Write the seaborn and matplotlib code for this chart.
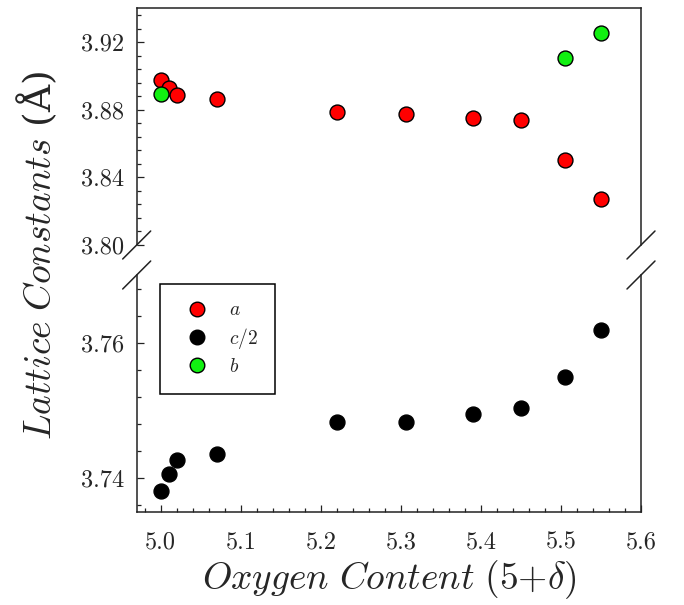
import matplotlib
matplotlib.use("Agg")
import matplotlib.pyplot as plt
import seaborn as sns
import pandas as pd
from matplotlib.lines import Line2D
from matplotlib.ticker import FixedLocator, MultipleLocator, FixedFormatter

# ---- data ----
oxygen = [5.00, 5.01, 5.02, 5.07, 5.22, 5.306, 5.39, 5.45, 5.505, 5.55]
a_vals = [3.8973, 3.8928, 3.8889, 3.8863, 3.8784, 3.8776, 3.8754, 3.8739, 3.8500, 3.8272]
c2_vals = [3.7381, 3.7406, 3.7427, 3.7436, 3.7483, 3.7482, 3.7495, 3.7503, 3.7549, 3.7618]
b_oxygen = [5.00, 5.505, 5.55]
b_vals = [3.8895, 3.9105, 3.9253]

x_ticks = [5.0, 5.1, 5.2, 5.3, 5.4, 5.5, 5.6]
x_ticklabels = ["5.0", "5.1", "5.2", "5.3", "5.4", "5.5", "5.6"]
top_ticks = [3.80, 3.84, 3.88, 3.92]
top_ticklabels = ["3.80", "3.84", "3.88", "3.92"]
bot_ticks = [3.74, 3.76]
bot_ticklabels = ["3.74", "3.76"]

sns.set_style("ticks")
plt.rcParams["font.family"] = ["cmr10", "DejaVu Serif"]
plt.rcParams["mathtext.fontset"] = "cm"
plt.rcParams["axes.formatter.use_mathtext"] = True

W, H = 684, 605
fig = plt.figure(figsize=(W / 100, H / 100), dpi=100)

L, R = 136.7, 641.0
ax_top = fig.add_axes([L / W, 1 - 245 / H, (R - L) / W, (245 - 8.3) / H])
ax_bot = fig.add_axes([L / W, 1 - 511.7 / H, (R - L) / W, (511.7 - 275) / H])

df_a = pd.DataFrame({"x": oxygen, "y": a_vals})
df_c = pd.DataFrame({"x": oxygen, "y": c2_vals})
df_b = pd.DataFrame({"x": b_oxygen, "y": b_vals})

msize = 115
red = "#ff0000"
green = "#11f011"

sns.scatterplot(data=df_a, x="x", y="y", ax=ax_top, s=msize, color=red,
                edgecolor="black", linewidth=1.0, zorder=3)
sns.scatterplot(data=df_b, x="x", y="y", ax=ax_top, s=msize, color=green,
                edgecolor="black", linewidth=1.0, zorder=4)
sns.scatterplot(data=df_c, x="x", y="y", ax=ax_bot, s=msize, color="black",
                edgecolor="black", linewidth=1.0, zorder=3)

spine_c = "#222222"
for ax in (ax_top, ax_bot):
    ax.set_xlim(4.97, 5.60)
    ax.set_xlabel("")
    ax.set_ylabel("")
    for sp in ax.spines.values():
        sp.set_linewidth(1.1)
        sp.set_color(spine_c)
    ax.tick_params(axis="both", which="both", direction="in", color=spine_c,
                   right=False, top=False, labelsize=17.5)
    ax.tick_params(which="major", length=5, width=0.9)
    ax.tick_params(which="minor", length=3, width=0.9)
    ax.tick_params(axis="y", pad=9)

ax_top.set_ylim(3.80, 3.94)
ax_top.yaxis.set_major_locator(FixedLocator(top_ticks))
ax_top.yaxis.set_major_formatter(FixedFormatter(top_ticklabels))
ax_top.yaxis.set_minor_locator(MultipleLocator(0.008))
ax_top.spines["bottom"].set_visible(False)
ax_top.tick_params(axis="x", which="both", bottom=False, labelbottom=False)

ax_bot.set_ylim(3.735, 3.77)
ax_bot.yaxis.set_major_locator(FixedLocator(bot_ticks))
ax_bot.yaxis.set_major_formatter(FixedFormatter(bot_ticklabels))
ax_bot.yaxis.set_minor_locator(MultipleLocator(0.004))
ax_bot.xaxis.set_major_locator(FixedLocator(x_ticks))
ax_bot.xaxis.set_major_formatter(FixedFormatter(x_ticklabels))
ax_bot.xaxis.set_minor_locator(MultipleLocator(0.02))
ax_bot.spines["top"].set_visible(False)
ax_bot.tick_params(axis="x", pad=14)

# break marks
def slash(ax, x0, y0):
    bb = ax.get_position()
    dx = 14 / (bb.width * W)
    dy = 14 / (bb.height * H)
    ax.add_line(Line2D([x0 - dx, x0 + dx], [y0 - dy, y0 + dy], transform=ax.transAxes,
                       color=spine_c, lw=1.1, clip_on=False))

slash(ax_top, 0, 0)
slash(ax_top, 1, 0)
slash(ax_bot, 0, 1)
slash(ax_bot, 1, 1)

# legend
handles = [
    Line2D([], [], ls="none", marker="o", markersize=10.5, markerfacecolor=red,
           markeredgecolor="black", markeredgewidth=1.0),
    Line2D([], [], ls="none", marker="o", markersize=10.5, markerfacecolor="black",
           markeredgecolor="black", markeredgewidth=1.0),
    Line2D([], [], ls="none", marker="o", markersize=10.5, markerfacecolor=green,
           markeredgecolor="black", markeredgewidth=1.0),
]
labels = [r"$\mathit{a}$", r"$\mathit{c/2}$", r"$\mathit{b}$"]
leg = fig.legend(handles, labels, loc="upper left",
                 bbox_to_anchor=(160 / W, 1 - 284 / H), borderaxespad=0,
                 fontsize=14, frameon=True, fancybox=False, framealpha=1,
                 edgecolor="black", borderpad=0.9, labelspacing=0.35,
                 handlelength=2.0, handletextpad=0.65)
leg.get_frame().set_linewidth(1.1)

# axis labels
fig.text(389 / W, 1 - 580 / H, r"$\mathit{Oxygen\ Content}\ (5{+}\delta)$",
         ha="center", va="center", fontsize=27)
fig.text(37 / W, 1 - 255 / H, r"$\mathit{Lattice\ Constants}$ (Å)",
         ha="center", va="center", rotation=90, fontsize=27,
         family=["DejaVu Serif"])

fig.savefig("out.png", dpi=100)
